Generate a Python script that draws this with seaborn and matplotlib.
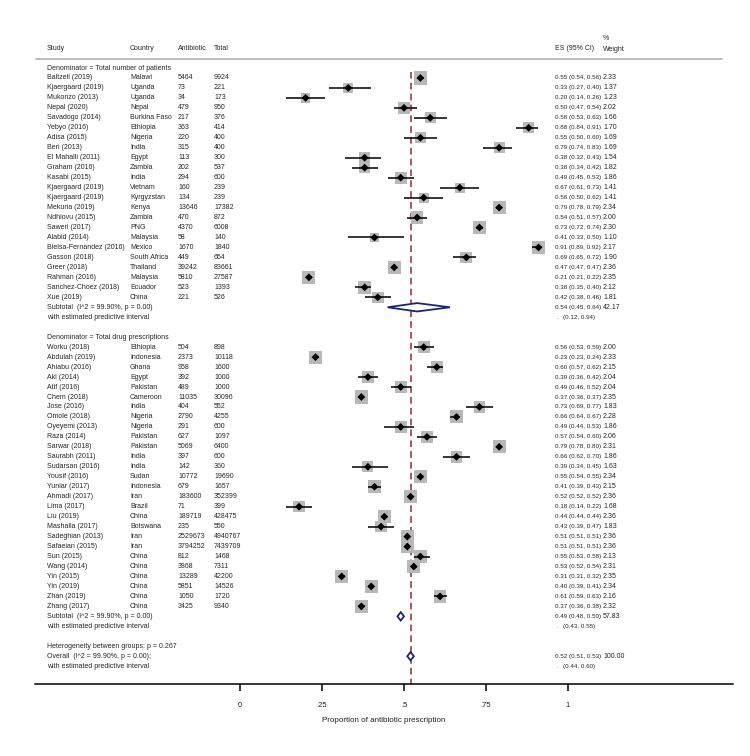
#forest plot of antibiotic prescription proportions
import numpy as np
import pandas as pd
import matplotlib.pyplot as plt
import seaborn as sns

# group 1: denominator = total number of patients
study1 = ['Baltzell (2019)', 'Kjaergaard (2019)', 'Mukonzo (2013)', 'Nepal (2020)', 'Savadogo (2014)',
          'Yebyo (2016)', 'Adisa (2015)', 'Beri (2013)', 'El Mahalli (2011)', 'Graham (2016)',
          'Kasabi (2015)', 'Kjaergaard (2019)', 'Kjaergaard (2019)', 'Mekuria (2019)', 'Ndhlovu (2015)',
          'Saweri (2017)', 'Alabid (2014)', 'Bielsa-Fernandez (2016)', 'Gasson (2018)', 'Greer (2018)',
          'Rahman (2016)', 'Sanchez-Choez (2018)', 'Xue (2019)']
country1 = ['Malawi', 'Uganda', 'Uganda', 'Nepal', 'Burkina Faso', 'Ethiopia', 'Nigeria', 'India', 'Egypt',
            'Zambia', 'India', 'Vietnam', 'Kyrgyzstan', 'Kenya', 'Zambia', 'PNG', 'Malaysia', 'Mexico',
            'South Africa', 'Thailand', 'Malaysia', 'Ecuador', 'China']
abx1 = [5464, 73, 34, 479, 217, 363, 220, 315, 113, 202, 294, 160, 134, 13646, 470, 4370, 58, 1670, 449,
        39242, 5810, 523, 221]
total1 = [9924, 221, 173, 950, 376, 414, 400, 400, 300, 537, 600, 239, 239, 17382, 872, 6008, 140, 1840,
          654, 83661, 27587, 1393, 526]
es1 = [0.55, 0.33, 0.20, 0.50, 0.58, 0.88, 0.55, 0.79, 0.38, 0.38, 0.49, 0.67, 0.56, 0.79, 0.54, 0.73,
       0.41, 0.91, 0.69, 0.47, 0.21, 0.38, 0.42]
lo1 = [0.54, 0.27, 0.14, 0.47, 0.53, 0.84, 0.50, 0.74, 0.32, 0.34, 0.45, 0.61, 0.50, 0.78, 0.51, 0.72,
       0.33, 0.89, 0.65, 0.47, 0.21, 0.35, 0.38]
hi1 = [0.56, 0.40, 0.26, 0.54, 0.63, 0.91, 0.60, 0.83, 0.43, 0.42, 0.53, 0.73, 0.62, 0.79, 0.57, 0.74,
       0.50, 0.92, 0.72, 0.47, 0.22, 0.40, 0.46]
wt1 = [2.33, 1.37, 1.23, 2.02, 1.66, 1.70, 1.69, 1.69, 1.54, 1.82, 1.86, 1.41, 1.41, 2.34, 2.00, 2.30,
       1.10, 2.17, 1.90, 2.36, 2.35, 2.12, 1.81]

# group 2: denominator = total drug prescriptions
study2 = ['Worku (2018)', 'Abdulah (2019)', 'Ahiabu (2016)', 'Akl (2014)', 'Atif (2016)', 'Chem (2018)',
          'Jose (2016)', 'Omole (2018)', 'Oyeyemi (2013)', 'Raza (2014)', 'Sarwar (2018)', 'Saurabh (2011)',
          'Sudarsan (2016)', 'Yousif (2016)', 'Yuniar (2017)', 'Ahmadi (2017)', 'Lima (2017)', 'Liu (2019)',
          'Mashalla (2017)', 'Sadeghian (2013)', 'Safaeian (2015)', 'Sun (2015)', 'Wang (2014)',
          'Yin (2015)', 'Yin (2019)', 'Zhan (2019)', 'Zhang (2017)']
country2 = ['Ethiopia', 'Indonesia', 'Ghana', 'Egypt', 'Pakistan', 'Cameroon', 'India', 'Nigeria', 'Nigeria',
            'Pakistan', 'Pakistan', 'India', 'India', 'Sudan', 'Indonesia', 'Iran', 'Brazil', 'China',
            'Botswana', 'Iran', 'Iran', 'China', 'China', 'China', 'China', 'China', 'China']
abx2 = [504, 2373, 958, 392, 489, 11035, 404, 2790, 291, 627, 5069, 397, 142, 10772, 679, 183600, 71,
        189719, 235, 2529673, 3794252, 812, 3868, 13289, 5851, 1050, 3425]
total2 = [898, 10118, 1600, 1000, 1000, 30096, 552, 4255, 600, 1097, 6400, 600, 360, 19690, 1657, 352399,
          399, 428475, 550, 4940767, 7439709, 1468, 7311, 42200, 14526, 1720, 9340]
es2 = [0.56, 0.23, 0.60, 0.39, 0.49, 0.37, 0.73, 0.66, 0.49, 0.57, 0.79, 0.66, 0.39, 0.55, 0.41, 0.52,
       0.18, 0.44, 0.43, 0.51, 0.51, 0.55, 0.53, 0.31, 0.40, 0.61, 0.37]
lo2 = [0.53, 0.23, 0.57, 0.36, 0.46, 0.36, 0.69, 0.64, 0.44, 0.54, 0.78, 0.62, 0.34, 0.54, 0.39, 0.52,
       0.14, 0.44, 0.39, 0.51, 0.51, 0.53, 0.52, 0.31, 0.39, 0.59, 0.36]
hi2 = [0.59, 0.24, 0.62, 0.42, 0.52, 0.37, 0.77, 0.67, 0.53, 0.60, 0.80, 0.70, 0.45, 0.55, 0.43, 0.52,
       0.22, 0.44, 0.47, 0.51, 0.51, 0.58, 0.54, 0.32, 0.41, 0.63, 0.38]
wt2 = [2.00, 2.33, 2.15, 2.04, 2.04, 2.35, 1.83, 2.28, 1.86, 2.06, 2.31, 1.86, 1.63, 2.34, 2.15, 2.36,
       1.68, 2.36, 1.83, 2.36, 2.36, 2.13, 2.31, 2.35, 2.34, 2.16, 2.32]

# pooled estimates: subtotal 1, subtotal 2, overall
pooled_es = [0.54, 0.49, 0.52]
pooled_lo = [0.45, 0.48, 0.51]
pooled_hi = [0.64, 0.50, 0.53]
pooled_wt = ['42.17', '57.83', '100.00']
pred_lo = [0.12, 0.43, 0.44]
pred_hi = [0.94, 0.55, 0.60]

group_titles = ['Denominator = Total number of patients', 'Denominator = Total drug prescriptions']
xticks = [0, 0.25, 0.5, 0.75, 1]
xticklabels = ['0', '.25', '.5', '.75', '1']

#row layout
rows1 = np.arange(1, len(study1) + 1)
sub1_row = rows1[-1] + 1
title2_row = sub1_row + 3
rows2 = np.arange(title2_row + 1, title2_row + 1 + len(study2))
sub2_row = rows2[-1] + 1
het_row = sub2_row + 3
overall_row = het_row + 1
pooled_rows = [sub1_row, sub2_row, overall_row]

df = pd.DataFrame({
    'study': study1 + study2,
    'country': country1 + country2,
    'abx': abx1 + abx2,
    'total': total1 + total2,
    'es': es1 + es2,
    'lo': lo1 + lo2,
    'hi': hi1 + hi2,
    'weight': wt1 + wt2,
    'row': np.concatenate([rows1, rows2]),
})

sns.set_theme(style="white")
plt.rcParams['font.family'] = ['Liberation Sans', 'DejaVu Sans']

W, H = 750, 756
fig = plt.figure(figsize=(W / 100, H / 100), dpi=100)
# pixel geometry of the plotting area
left_px, right_px, top_px, bottom_px = 35, 733, 30, 684
ax = fig.add_axes([left_px / W, 1 - bottom_px / H, (right_px - left_px) / W, (bottom_px - top_px) / H])
zero_px, unit_px = 240, 328
ax.set_xlim((left_px - zero_px) / unit_px, (right_px - zero_px) / unit_px)
row0_px, row_px = 68, 9.97
ax.set_ylim((bottom_px - row0_px) / row_px, (top_px - row0_px) / row_px)

def px2x(px):
    return (px - zero_px) / unit_px

base = dict(color='#262626', va='center', clip_on=False)
txt = dict(fontsize=5, **base)
# the CI column is set a little tighter so it clears the weight column
ci_txt = dict(fontsize=4.5, **base)

#header
ax.text(px2x(47), -2, 'Study', **txt)
ax.text(px2x(130), -2, 'Country', **txt)
ax.text(px2x(178), -2, 'Antibiotic', **txt)
ax.text(px2x(214), -2, 'Total', **txt)
ax.text(px2x(555), -2, 'ES (95% CI)', **txt)
ax.text(px2x(603), -3, '%', **txt)
ax.text(px2x(603), -1.9, 'Weight', **txt)
ax.plot([px2x(36), px2x(722)], [-0.9, -0.9], color='#b0b0b0', lw=1.2, clip_on=False)

#dashed overall line
ax.plot([pooled_es[2], pooled_es[2]], [0.4, (bottom_px - row0_px) / row_px], color='#9e3a3f',
        lw=1.2, ls=(0, (4, 2.5)), zorder=1)

#study rows text
ax.text(px2x(47), 0, group_titles[0], **txt)
ax.text(px2x(47), title2_row, group_titles[1], **txt)
for _, r in df.iterrows():
    ax.text(px2x(47), r['row'], r['study'], **txt)
    ax.text(px2x(130), r['row'], r['country'], **txt)
    ax.text(px2x(178), r['row'], str(r['abx']), **txt)
    ax.text(px2x(214), r['row'], str(r['total']), **txt)
    ax.text(px2x(555), r['row'], f"{r['es']:.2f} ({r['lo']:.2f}, {r['hi']:.2f})", **ci_txt)
    ax.text(px2x(603), r['row'], f"{r['weight']:.2f}", **txt)

#CI lines
ax.hlines(df['row'], df['lo'], df['hi'], color='black', lw=1.1, zorder=3)

#weight boxes and point estimates
wmin, wmax = df['weight'].min(), df['weight'].max()
sns.scatterplot(data=df, x='es', y='row', size='weight', sizes=(38 * wmin, 38 * wmax),
                size_norm=(wmin, wmax), marker='s', color='#b8b8b8', edgecolor='none',
                legend=False, ax=ax, zorder=2)
sns.scatterplot(data=df, x='es', y='row', marker='D', color='black', s=16, edgecolor='none',
                legend=False, ax=ax, zorder=4)

#pooled rows
labels = ['Subtotal  (I^2 = 99.90%, p = 0.00)', 'Subtotal  (I^2 = 99.90%, p = 0.00)',
          'Overall  (I^2 = 99.90%, p = 0.00);']
for i, rw in enumerate(pooled_rows):
    e, l, h = pooled_es[i], pooled_lo[i], pooled_hi[i]
    ax.fill([l, e, h, e, l], [rw, rw - 0.42, rw, rw + 0.42, rw], facecolor='white',
            edgecolor='#1c2673', lw=1.3, zorder=5)
    ax.text(px2x(47), rw, labels[i], **txt)
    ax.text(px2x(47), rw + 1, 'with estimated predictive interval', **txt)
    ax.text(px2x(555), rw, f"{e:.2f} ({l:.2f}, {h:.2f})", **ci_txt)
    ax.text(px2x(603), rw, pooled_wt[i], **txt)
    ax.text(px2x(556), rw + 1, '.', **ci_txt)
    ax.text(px2x(563), rw + 1, f"({pred_lo[i]:.2f}, {pred_hi[i]:.2f})", **ci_txt)
ax.text(px2x(47), het_row, 'Heterogeneity between groups: p = 0.267', **txt)

#axis styling
sns.despine(ax=ax, left=True, top=True, right=True)
ax.spines['bottom'].set_color('black')
ax.spines['bottom'].set_linewidth(1.1)
ax.set_yticks([])
ax.set_xticks(xticks)
ax.set_xticklabels(xticklabels, fontsize=5.5, color='#222222')
ax.tick_params(axis='x', bottom=True, length=5, width=1.1, color='black', pad=8)
ax.set_xlabel('Proportion of antibiotic prescription', fontsize=5.8, color='#222222', labelpad=6)
ax.set_ylabel('')
ax.grid(False)
ax.set_facecolor('white')

fig.savefig('out.png', dpi=100, facecolor='white')
